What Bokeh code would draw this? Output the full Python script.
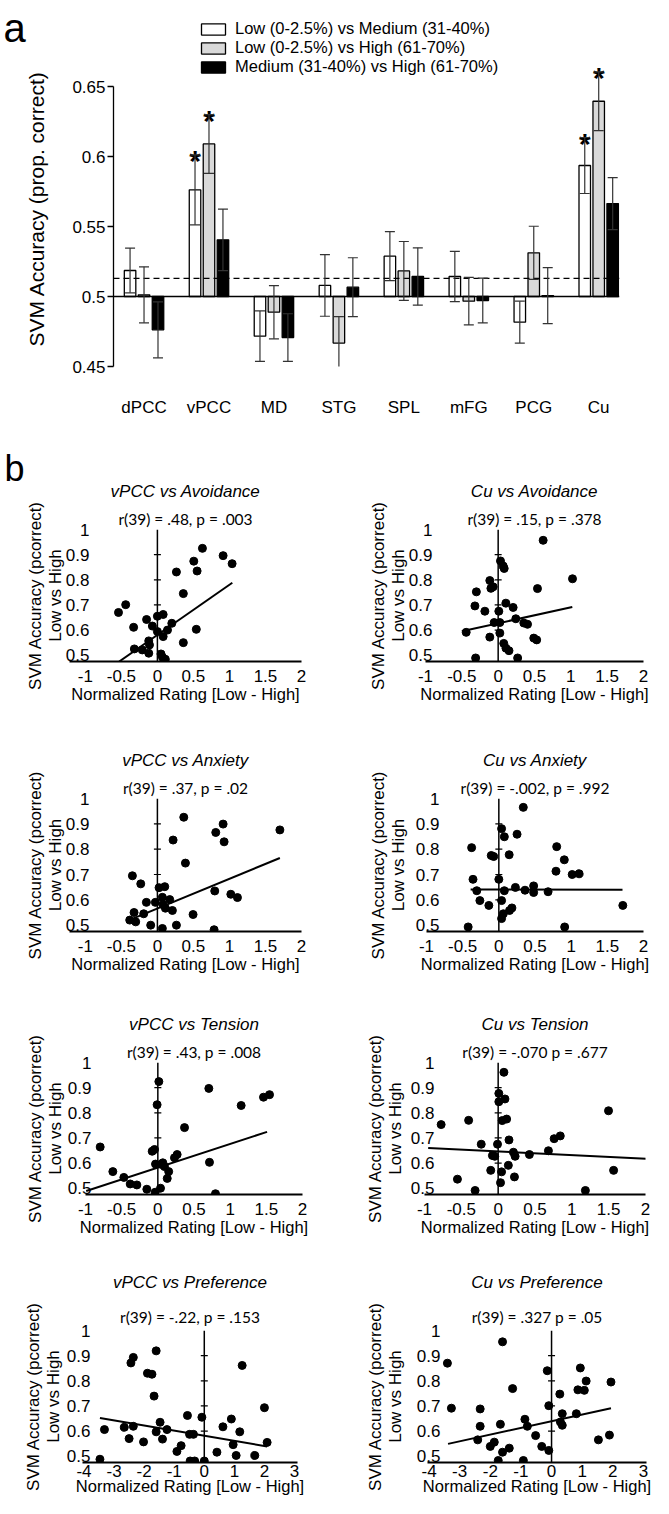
import numpy as np
from bokeh.plotting import figure
from bokeh.models import (Range1d, FixedTicker, NumeralTickFormatter, Span, Legend,
                          LegendItem, ColumnDataSource, Whisker, TeeHead, Title)
from bokeh.layouts import column, row
from bokeh.embed import file_html
from bokeh.resources import INLINE
from bokeh.core.properties import value

FONT = "Liberation Sans"
STAT_FONT = "Lato"

# ---------------- panel a data ----------------
categories = ["dPCC", "vPCC", "MD", "STG", "SPL", "mFG", "PCG", "Cu"]
series_labels = ["Low (0-2.5%) vs Medium (31-40%)",
                 "Low (0-2.5%) vs High (61-70%)",
                 "Medium (31-40%) vs High (61-70%)"]
low_med = [0.5186, 0.5762, 0.4717, 0.5079, 0.5288, 0.5143, 0.4817, 0.5936]
low_med_err = [0.016, 0.025, 0.018, 0.022, 0.0175, 0.018, 0.015, 0.020]
low_high = [0.5012, 0.6090, 0.4888, 0.4667, 0.5183, 0.4967, 0.5312, 0.6395]
low_high_err = [0.020, 0.021, 0.019, 0.019, 0.021, 0.017, 0.019, 0.021]
med_high = [0.4762, 0.5405, 0.4707, 0.5067, 0.5143, 0.4971, 0.5007, 0.5664]
med_high_err = [0.020, 0.022, 0.017, 0.021, 0.0205, 0.016, 0.020, 0.0186]
low_med_sig = [0, 1, 0, 0, 0, 0, 0, 1]
low_high_sig = [0, 1, 0, 0, 0, 0, 0, 1]
med_high_sig = [0, 0, 0, 0, 0, 0, 0, 0]
chance_level = 0.513
baseline_a = 0.5
a_ticks = [0.45, 0.5, 0.55, 0.6, 0.65]
y_label_a = "SVM Accuracy (prop. correct)"

# ---------------- panel b data ----------------
x1 = [0.625, 0.912, 1.037, 0.505, 0.551, 0.264, 0.36, -0.44, -0.54, -0.15, 0.0, 0.08, -0.33, -0.07,
      0.0, 0.08, 0.14, 0.2, 0.54, -0.12, -0.11, -0.32, -0.21, -0.12, 0.36, 0.05, 0.07, 0.11]
y1 = [0.925, 0.896, 0.864, 0.874, 0.835, 0.831, 0.745, 0.701, 0.670, 0.642, 0.655, 0.662, 0.611, 0.616,
      0.594, 0.574, 0.600, 0.627, 0.603, 0.557, 0.541, 0.525, 0.521, 0.508, 0.550, 0.505, 0.492, 0.484]
fit1_x = [-0.53, 1.04]
fit1_y = [0.475, 0.788]

x2 = [0.619, 1.023, 0.541, 0.032, 0.069, 0.083, -0.115, -0.069, -0.10, -0.30, -0.32, -0.183, 0.009,
      0.106, 0.206, 0.243, -0.055, 0.023, 0.353, 0.404, -0.44, -0.115, 0.023, 0.49, 0.53, 0.077,
      0.107, 0.149, -0.31, 0.268]
y2 = [0.957, 0.804, 0.765, 0.875, 0.855, 0.845, 0.797, 0.772, 0.766, 0.752, 0.696, 0.675, 0.675,
      0.707, 0.690, 0.645, 0.630, 0.630, 0.628, 0.623, 0.591, 0.572, 0.588, 0.568, 0.561, 0.547,
      0.528, 0.518, 0.489, 0.489]
fit2_x = [-0.50, 1.02]
fit2_y = [0.595, 0.692]

x3 = [0.366, 0.912, 0.810, 0.926, 1.70, 0.218, 0.389, -0.347, -0.231, 0.023, 0.102, 0.069, -0.153,
      -0.028, 0.171, 0.796, 1.019, 1.111, 0.079, 0.111, 0.208, -0.324, -0.19, 0.495, -0.384, -0.301,
      -0.093, 0.069, 0.264, 0.787]
y3 = [0.926, 0.899, 0.866, 0.829, 0.876, 0.836, 0.745, 0.695, 0.663, 0.648, 0.652, 0.610, 0.590,
      0.590, 0.601, 0.635, 0.622, 0.609, 0.581, 0.567, 0.558, 0.550, 0.545, 0.542, 0.520, 0.513,
      0.500, 0.487, 0.500, 0.482]
fit3_x = [-0.35, 1.70]
fit3_y = [0.525, 0.765]

x4 = [0.338, 0.038, 0.076, 0.252, -0.376, -0.105, -0.071, 0.143, 0.80, 0.905, 0.79, 1.014, 1.11,
      -0.357, 0.0, -0.305, 0.076, 0.229, 0.362, 0.481, 0.481, 0.681, -0.262, -0.138, 0.038, 0.181,
      0.148, 0.062, 0.038, -0.424, 0.91, 1.714]
y4 = [0.965, 0.881, 0.849, 0.859, 0.806, 0.775, 0.771, 0.778, 0.810, 0.758, 0.713, 0.700, 0.703,
      0.681, 0.681, 0.636, 0.636, 0.649, 0.638, 0.655, 0.629, 0.632, 0.597, 0.578, 0.597, 0.568,
      0.558, 0.545, 0.526, 0.493, 0.493, 0.578]
fit4_x = [-0.39, 1.71]
fit4_y = [0.641, 0.640]

x5 = [0.014, -0.01, 0.705, 1.152, 1.461, 1.544, 0.369, -0.797, -0.078, -0.046, -0.032, 0.069, 0.092,
      0.046, 0.23, 0.267, 0.714, -0.622, -0.47, -0.382, -0.29, -0.152, 0.15, 0.13, -0.037, 0.037, 0.797]
y5 = [0.924, 0.832, 0.897, 0.829, 0.862, 0.872, 0.741, 0.664, 0.647, 0.654, 0.596, 0.601, 0.586,
      0.595, 0.621, 0.634, 0.603, 0.566, 0.543, 0.517, 0.513, 0.496, 0.566, 0.539, 0.484, 0.500, 0.478]
fit5_x = [-0.99, 1.51]
fit5_y = [0.489, 0.724]

x6 = [0.078, 0.009, 0.092, 0.009, 0.055, 0.115, -0.774, -0.401, 1.498, 0.76, 0.843, -0.23, -0.009,
      0.147, 0.682, -0.078, -0.046, 0.207, 0.23, 0.424, 0.138, -0.101, 0.046, 0.221, 1.567, -0.553,
      0.032, -0.313, 1.184]
y6 = [0.961, 0.877, 0.855, 0.844, 0.769, 0.775, 0.753, 0.770, 0.808, 0.697, 0.708, 0.675, 0.675,
      0.692, 0.649, 0.630, 0.627, 0.643, 0.627, 0.634, 0.591, 0.571, 0.565, 0.545, 0.571, 0.536,
      0.522, 0.491, 0.491]
fit6_x = [-0.95, 2.21]
fit6_y = [0.660, 0.614]

x7 = [-3.47, -3.32, -2.66, -2.5, -2.44, -2.36, -2.36, -2.02, -1.89, -1.74, -1.6, -1.67, -1.6, -1.47,
      -1.39, -1.24, -0.91, -0.77, -0.56, -0.49, -0.36, -0.47, -0.32, -0.08, 0.0, 0.42, 0.62, 0.9,
      0.96, 1.06, 1.18, 1.26, 1.68, 2.0, 2.09]
y7 = [0.488, 0.606, 0.615, 0.570, 0.871, 0.893, 0.619, 0.557, 0.830, 0.826, 0.919, 0.739, 0.597,
      0.635, 0.568, 0.606, 0.519, 0.542, 0.662, 0.587, 0.587, 0.481, 0.481, 0.655, 0.481, 0.516,
      0.617, 0.648, 0.546, 0.503, 0.597, 0.861, 0.503, 0.693, 0.555]
fit7_x = [-3.47, 2.09]
fit7_y = [0.652, 0.539]

x8 = [-3.40, -3.27, -2.33, -2.33, -2.41, -2.0, -1.87, -1.67, -1.6, -1.74, -1.6, -1.38, -1.27, -0.87,
      -0.79, -0.92, -0.52, -0.32, -0.14, -0.09, -0.09, 0.27, 0.29, 0.35, 0.35, 0.81, 0.94, 0.86,
      1.07, 1.13, 1.53, 1.89, 1.94]
y8 = [0.870, 0.691, 0.688, 0.619, 0.565, 0.539, 0.556, 0.627, 0.955, 0.483, 0.516, 0.532, 0.769,
      0.647, 0.619, 0.483, 0.582, 0.539, 0.840, 0.701, 0.523, 0.747, 0.636, 0.669, 0.623, 0.669,
      0.851, 0.764, 0.762, 0.799, 0.565, 0.584, 0.795]
fit8_x = [-3.38, 1.94]
fit8_y = [0.549, 0.691]

panel_titles = ["vPCC vs Avoidance", "Cu vs Avoidance", "vPCC vs Anxiety", "Cu vs Anxiety",
                "vPCC vs Tension", "Cu vs Tension", "vPCC vs Preference", "Cu vs Preference"]
panel_stats = ["r(39) = .48, p = .003", "r(39) = .15, p = .378", "r(39) = .37, p = .02",
               "r(39) = -.002, p = .992", "r(39) = .43, p = .008", "r(39) = -.070 p = .677",
               "r(39) = -.22, p = .153", "r(39) = .327 p = .05"]
y_ticks_b = [0.5, 0.6, 0.7, 0.8, 0.9, 1.0]
x_ticks_small = [-1, -0.5, 0, 0.5, 1, 1.5, 2]
x_ticks_wide = [-4, -3, -2, -1, 0, 1, 2, 3]
y_label_b = "SVM Accuracy (pcorrect)\nLow vs High"
x_label_b = "Normalized Rating [Low - High]"


def bare(p):
    p.outline_line_color = None
    p.grid.visible = False
    p.background_fill_alpha = 0
    p.border_fill_alpha = 0
    return p


# ================= panel a =================
A_H = 440
strip_a = bare(figure(width=62, height=A_H, x_range=Range1d(0, 62), y_range=Range1d(A_H, 0),
                      min_border=0, x_axis_location=None, y_axis_location=None,
                      output_backend="svg", toolbar_location=None))
strip_a.text(x=[3], y=[19], text=["a"], text_font=value(FONT), text_font_size="40px",
             text_align="left", text_baseline="alphabetic", text_color="black")
strip_a.text(x=[36], y=[244], text=[y_label_a], angle=np.pi / 2, text_font=value(FONT),
             text_font_size="21px", text_align="center", text_baseline="middle", text_color="black")

pa = figure(width=591, height=A_H, x_range=Range1d(-0.47, 7.32), y_range=Range1d(0.45, 0.7029),
            min_border_left=51, min_border_right=34, min_border_top=12, min_border_bottom=74,
            output_backend="svg", toolbar_location=None)
pa.xgrid.visible = False
pa.ygrid.visible = False
pa.outline_line_color = None

pa.add_layout(Span(location=baseline_a, dimension="width", line_color="black", line_width=1.3))
pa.add_layout(Span(location=chance_level, dimension="width", line_color="black",
                   line_width=1.3, line_dash="6 4"))

idx = np.arange(len(categories))
offsets = [-0.215, 0.0, 0.215]
fills = ["white", "#d9d9d9", "black"]
series = [(low_med, low_med_err, low_med_sig), (low_high, low_high_err, low_high_sig),
          (med_high, med_high_err, med_high_sig)]
bar_renderers = []
for k, (vals, errs, sig) in enumerate(series):
    vals = np.array(vals)
    errs = np.array(errs)
    src = ColumnDataSource(dict(x=idx + offsets[k], top=vals, upper=vals + errs, lower=vals - errs))
    r = pa.vbar(x="x", top="top", bottom=baseline_a, width=0.177, source=src,
                fill_color=fills[k], line_color="black", line_width=1.3)
    bar_renderers.append(r)
    pa.add_layout(Whisker(source=src, base="x", upper="upper", lower="lower", dimension="height",
                          line_color="#333333", line_width=1.2, level="overlay",
                          upper_head=TeeHead(size=10, line_color="#333333", line_width=1.2),
                          lower_head=TeeHead(size=10, line_color="#333333", line_width=1.2)))
    sig = np.array(sig, dtype=bool)
    if sig.any():
        pa.text(x=(idx + offsets[k])[sig], y=(vals + errs)[sig], text=["*"] * int(sig.sum()),
                text_font=value(FONT), text_font_size="30px", text_font_style="bold",
                text_align="center", text_baseline="alphabetic", y_offset=6, text_color="black")

pa.yaxis.ticker = FixedTicker(ticks=a_ticks)
pa.yaxis.bounds = (a_ticks[0], a_ticks[-1])
pa.yaxis.formatter = NumeralTickFormatter(format="0.[00]")
pa.yaxis.major_tick_out = 6
pa.yaxis.major_tick_in = 0
pa.yaxis.minor_tick_line_color = None
pa.yaxis.major_label_standoff = 2
pa.yaxis.axis_line_width = 1.3
pa.yaxis.major_tick_line_width = 1.3
pa.yaxis.major_label_text_font = FONT
pa.yaxis.major_label_text_font_size = "17px"
pa.yaxis.major_label_text_color = "black"

pa.xaxis.ticker = FixedTicker(ticks=[int(i) for i in idx])
pa.xaxis.major_label_overrides = {int(i): c for i, c in enumerate(categories)}
pa.xaxis.axis_line_color = None
pa.xaxis.major_tick_line_color = None
pa.xaxis.minor_tick_line_color = None
pa.xaxis.major_tick_out = 0
pa.xaxis.major_label_standoff = 31
pa.xaxis.major_label_text_font = FONT
pa.xaxis.major_label_text_font_size = "17px"
pa.xaxis.major_label_text_color = "black"

legend = Legend(items=[LegendItem(label=series_labels[k], renderers=[bar_renderers[k]]) for k in range(3)],
                location=(85, 290), orientation="vertical", glyph_width=30, glyph_height=14,
                label_height=19, label_standoff=7, spacing=0, padding=0, margin=0,
                border_line_color=None, background_fill_alpha=0, label_text_font=FONT,
                label_text_font_size="16.5px", label_text_color="black")
pa.add_layout(legend)

# ================= panel b =================
panel_data = [(x1, y1, fit1_x, fit1_y), (x2, y2, fit2_x, fit2_y), (x3, y3, fit3_x, fit3_y),
              (x4, y4, fit4_x, fit4_y), (x5, y5, fit5_x, fit5_y), (x6, y6, fit6_x, fit6_y),
              (x7, y7, fit7_x, fit7_y), (x8, y8, fit8_x, fit8_y)]

specs = [
    dict(w=326, h=287, xr=(-1.22, 2.0), bl=69, br=25, bt=89, bb=66, yts=-20, yls=-2, wide=False, last=False),
    dict(w=327, h=287, xr=(-1.0, 2.0), bl=99, br=10, bt=89, bb=66, yts=-7, yls=-2, wide=False, last=False),
    dict(w=326, h=265, xr=(-1.22, 2.0), bl=69, br=25, bt=71, bb=61, yts=-20, yls=-2, wide=False, last=False),
    dict(w=327, h=265, xr=(-1.0, 2.0), bl=100, br=10, bt=71, bb=61, yts=-13, yls=5, wide=False, last=False),
    dict(w=326, h=262, xr=(-1.0, 2.0), bl=85, br=24, bt=70, bb=60, yts=-6, yls=0, wide=False, last=False),
    dict(w=327, h=262, xr=(-1.0, 2.0), bl=98, br=8, bt=70, bb=60, yts=-10, yls=3, wide=False, last=False),
    dict(w=326, h=244, xr=(-4.05, 3.1), bl=82, br=29, bt=76, bb=36, yts=-8, yls=1, wide=True, last=True),
    dict(w=327, h=244, xr=(-4.05, 3.1), bl=101, br=7, bt=76, bb=36, yts=-13, yls=9, wide=True, last=True),
]


def make_panel(i):
    xs, ys, fx, fy = panel_data[i]
    s = specs[i]
    p = figure(width=s["w"], height=s["h"], x_range=Range1d(*s["xr"]),
               y_range=Range1d(0.475, y_ticks_b[-1]),
               min_border_left=s["bl"], min_border_right=s["br"],
               min_border_top=s["bt"], min_border_bottom=s["bb"],
               output_backend="svg", toolbar_location=None)
    p.xgrid.visible = False
    p.ygrid.visible = False
    p.outline_line_color = None

    stat_standoff = 10 if s["last"] else 4
    title_standoff = 18 if s["last"] else 10
    p.add_layout(Title(text=panel_stats[i], align="center", text_font=STAT_FONT,
                       text_font_size="15.5px", text_font_style="normal", text_color="black",
                       standoff=stat_standoff), "above")
    p.add_layout(Title(text=panel_titles[i], align="center", text_font=FONT,
                       text_font_size="17px", text_font_style="italic", text_color="black",
                       standoff=title_standoff), "above")

    p.add_layout(Span(location=0, dimension="height", line_color="black", line_width=1.5))
    inner = [t for t in y_ticks_b[1:-1]]
    p.scatter(x=[0] * len(inner), y=inner, marker="dash", size=7, line_color="black", line_width=1.2)

    p.line(fx, fy, line_color="black", line_width=2)
    p.scatter(xs, ys, marker="circle", size=8, fill_color="black", line_color="black")

    p.xaxis.ticker = FixedTicker(ticks=x_ticks_wide if s["wide"] else x_ticks_small)
    p.xaxis.formatter = NumeralTickFormatter(format="0.[0]")
    p.xaxis.axis_line_width = 2
    p.xaxis.axis_line_color = "black"
    p.xaxis.major_tick_line_color = None
    p.xaxis.minor_tick_line_color = None
    p.xaxis.major_tick_out = 0
    p.xaxis.major_tick_in = 0
    p.xaxis.major_label_standoff = 2 if s["last"] else 8
    p.xaxis.major_label_text_font = FONT
    p.xaxis.major_label_text_font_size = "17px"
    p.xaxis.major_label_text_color = "black"
    p.xaxis.axis_label = x_label_b
    p.xaxis.axis_label_standoff = -3 if s["last"] else 0
    p.xaxis.axis_label_text_font = FONT
    p.xaxis.axis_label_text_font_size = "16.5px"
    p.xaxis.axis_label_text_font_style = "normal"
    p.xaxis.axis_label_text_color = "black"

    p.yaxis.ticker = FixedTicker(ticks=y_ticks_b)
    p.yaxis.formatter = NumeralTickFormatter(format="0.[0]")
    p.yaxis.axis_line_color = None
    p.yaxis.major_tick_line_color = None
    p.yaxis.minor_tick_line_color = None
    p.yaxis.major_tick_out = 0
    p.yaxis.major_tick_in = 0
    p.yaxis.major_label_standoff = s["yts"]
    p.yaxis.major_label_text_font = FONT
    p.yaxis.major_label_text_font_size = "17px"
    p.yaxis.major_label_text_color = "black"
    p.yaxis.axis_label = y_label_b
    p.yaxis.axis_label_standoff = s["yls"]
    p.yaxis.axis_label_text_font = FONT
    p.yaxis.axis_label_text_font_size = "17px"
    p.yaxis.axis_label_text_font_style = "normal"
    p.yaxis.axis_label_text_line_height = 1.05
    p.yaxis.axis_label_text_color = "black"
    return p


panels = [make_panel(i) for i in range(8)]
panels[0].add_layout(Title(text="b", align="left", offset=-65, vertical_align="top",
                           text_font=FONT, text_font_size="36px", text_font_style="normal",
                           text_color="black", standoff=-33), "above")

layout = column(row(strip_a, pa), row(panels[0], panels[1]), row(panels[2], panels[3]),
                row(panels[4], panels[5]), row(panels[6], panels[7]))

open("out.html", "w").write(file_html(layout, INLINE))
